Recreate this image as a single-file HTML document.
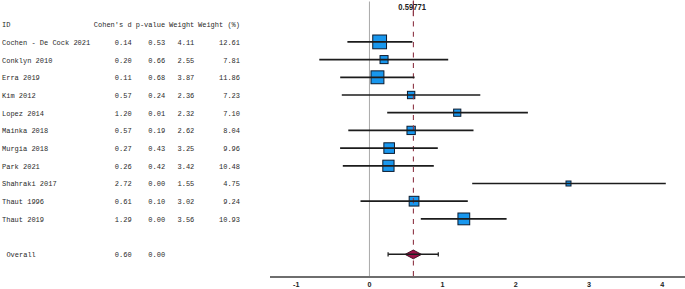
<!DOCTYPE html>
<html><head><meta charset="utf-8"><style>
html,body{margin:0;padding:0;background:#fff;width:685px;height:289px;overflow:hidden}
svg{display:block}
.m{font-family:"Liberation Mono",monospace;font-size:7.0px;fill:#2a2a2a}
.s{font-family:"Liberation Sans",sans-serif;font-size:7.2px;font-weight:bold;fill:#222}
</style></head><body>
<svg width="685" height="289" viewBox="0 0 685 289">
<g class="m">
<text x="2.0" y="27.30">ID</text>
<text x="131.6" y="27.30" text-anchor="end">Cohen's d</text>
<text x="165.1" y="27.30" text-anchor="end">p-value</text>
<text x="194.3" y="27.30" text-anchor="end">Weight</text>
<text x="240.0" y="27.30" text-anchor="end">Weight (%)</text>
<text x="2.0" y="44.96">Cochen - De Cock 2021</text>
<text x="131.6" y="44.96" text-anchor="end">0.14</text>
<text x="165.1" y="44.96" text-anchor="end">0.53</text>
<text x="194.3" y="44.96" text-anchor="end">4.11</text>
<text x="240.0" y="44.96" text-anchor="end">12.61</text>
<text x="2.0" y="62.62">Conklyn 2010</text>
<text x="131.6" y="62.62" text-anchor="end">0.20</text>
<text x="165.1" y="62.62" text-anchor="end">0.66</text>
<text x="194.3" y="62.62" text-anchor="end">2.55</text>
<text x="240.0" y="62.62" text-anchor="end">7.81</text>
<text x="2.0" y="80.28">Erra 2019</text>
<text x="131.6" y="80.28" text-anchor="end">0.11</text>
<text x="165.1" y="80.28" text-anchor="end">0.68</text>
<text x="194.3" y="80.28" text-anchor="end">3.87</text>
<text x="240.0" y="80.28" text-anchor="end">11.86</text>
<text x="2.0" y="97.94">Kim 2012</text>
<text x="131.6" y="97.94" text-anchor="end">0.57</text>
<text x="165.1" y="97.94" text-anchor="end">0.24</text>
<text x="194.3" y="97.94" text-anchor="end">2.36</text>
<text x="240.0" y="97.94" text-anchor="end">7.23</text>
<text x="2.0" y="115.60">Lopez 2014</text>
<text x="131.6" y="115.60" text-anchor="end">1.20</text>
<text x="165.1" y="115.60" text-anchor="end">0.01</text>
<text x="194.3" y="115.60" text-anchor="end">2.32</text>
<text x="240.0" y="115.60" text-anchor="end">7.10</text>
<text x="2.0" y="133.26">Mainka 2018</text>
<text x="131.6" y="133.26" text-anchor="end">0.57</text>
<text x="165.1" y="133.26" text-anchor="end">0.19</text>
<text x="194.3" y="133.26" text-anchor="end">2.62</text>
<text x="240.0" y="133.26" text-anchor="end">8.04</text>
<text x="2.0" y="150.92">Murgia 2018</text>
<text x="131.6" y="150.92" text-anchor="end">0.27</text>
<text x="165.1" y="150.92" text-anchor="end">0.43</text>
<text x="194.3" y="150.92" text-anchor="end">3.25</text>
<text x="240.0" y="150.92" text-anchor="end">9.96</text>
<text x="2.0" y="168.58">Park 2021</text>
<text x="131.6" y="168.58" text-anchor="end">0.26</text>
<text x="165.1" y="168.58" text-anchor="end">0.42</text>
<text x="194.3" y="168.58" text-anchor="end">3.42</text>
<text x="240.0" y="168.58" text-anchor="end">10.48</text>
<text x="2.0" y="186.24">Shahraki 2017</text>
<text x="131.6" y="186.24" text-anchor="end">2.72</text>
<text x="165.1" y="186.24" text-anchor="end">0.00</text>
<text x="194.3" y="186.24" text-anchor="end">1.55</text>
<text x="240.0" y="186.24" text-anchor="end">4.75</text>
<text x="2.0" y="203.90">Thaut 1996</text>
<text x="131.6" y="203.90" text-anchor="end">0.61</text>
<text x="165.1" y="203.90" text-anchor="end">0.10</text>
<text x="194.3" y="203.90" text-anchor="end">3.02</text>
<text x="240.0" y="203.90" text-anchor="end">9.24</text>
<text x="2.0" y="221.56">Thaut 2019</text>
<text x="131.6" y="221.56" text-anchor="end">1.29</text>
<text x="165.1" y="221.56" text-anchor="end">0.00</text>
<text x="194.3" y="221.56" text-anchor="end">3.56</text>
<text x="240.0" y="221.56" text-anchor="end">10.93</text>
<text x="6.4" y="257.30">Overall</text>
<text x="131.6" y="257.30" text-anchor="end">0.60</text>
<text x="165.1" y="257.30" text-anchor="end">0.00</text>
</g>
<line x1="369.45" y1="1.5" x2="369.45" y2="277" stroke="#a8a8a8" stroke-width="1"/>
<rect x="372.75" y="35.00" width="13.79" height="13.79" fill="#1897ee" stroke="#0d1b2e" stroke-width="1"/>
<rect x="380.02" y="55.58" width="8.04" height="8.04" fill="#1897ee" stroke="#0d1b2e" stroke-width="1"/>
<rect x="371.01" y="70.85" width="12.89" height="12.89" fill="#1897ee" stroke="#0d1b2e" stroke-width="1"/>
<rect x="407.45" y="91.33" width="7.35" height="7.35" fill="#1897ee" stroke="#0d1b2e" stroke-width="1"/>
<rect x="453.64" y="109.10" width="7.19" height="7.19" fill="#1897ee" stroke="#0d1b2e" stroke-width="1"/>
<rect x="406.97" y="126.24" width="8.32" height="8.32" fill="#1897ee" stroke="#0d1b2e" stroke-width="1"/>
<rect x="383.86" y="142.79" width="10.62" height="10.62" fill="#1897ee" stroke="#0d1b2e" stroke-width="1"/>
<rect x="382.81" y="160.18" width="11.24" height="11.24" fill="#1897ee" stroke="#0d1b2e" stroke-width="1"/>
<rect x="566.00" y="181.00" width="5.00" height="5.00" fill="#1897ee" stroke="#0d1b2e" stroke-width="1"/>
<rect x="409.17" y="196.32" width="9.75" height="9.75" fill="#1897ee" stroke="#0d1b2e" stroke-width="1"/>
<rect x="457.94" y="213.01" width="11.78" height="11.78" fill="#1897ee" stroke="#0d1b2e" stroke-width="1"/>
<line x1="413.4" y1="0.5" x2="413.4" y2="276" stroke="#8e3646" stroke-width="1.1" stroke-dasharray="5.1 5.3"/>
<line x1="413.4" y1="1.2" x2="413.4" y2="16.2" stroke="#8e3646" stroke-width="1.1"/>
<line x1="347.4" y1="41.90" x2="412.4" y2="41.90" stroke="#1c1c1c" stroke-width="1.7"/>
<line x1="319.3" y1="59.60" x2="448.2" y2="59.60" stroke="#1c1c1c" stroke-width="1.7"/>
<line x1="340.2" y1="77.30" x2="414.6" y2="77.30" stroke="#1c1c1c" stroke-width="1.7"/>
<line x1="341.8" y1="95.00" x2="480.3" y2="95.00" stroke="#1c1c1c" stroke-width="1.7"/>
<line x1="387.2" y1="112.70" x2="527.9" y2="112.70" stroke="#1c1c1c" stroke-width="1.7"/>
<line x1="348.3" y1="130.40" x2="473.5" y2="130.40" stroke="#1c1c1c" stroke-width="1.7"/>
<line x1="340.1" y1="148.10" x2="437.8" y2="148.10" stroke="#1c1c1c" stroke-width="1.7"/>
<line x1="342.8" y1="165.80" x2="433.8" y2="165.80" stroke="#1c1c1c" stroke-width="1.7"/>
<line x1="472.2" y1="183.50" x2="665.8" y2="183.50" stroke="#1c1c1c" stroke-width="1.7"/>
<line x1="360.5" y1="201.20" x2="467.8" y2="201.20" stroke="#1c1c1c" stroke-width="1.7"/>
<line x1="420.8" y1="218.90" x2="506.6" y2="218.90" stroke="#1c1c1c" stroke-width="1.7"/>
<polygon points="405.10,254.40 413.30,250.00 421.50,254.40 413.30,258.80" fill="#9a1048" stroke="#3a0a1a" stroke-width="0.9"/>
<line x1="388.1" y1="254.30" x2="438.3" y2="254.30" stroke="#1e1e1e" stroke-width="1.5"/>
<line x1="388.1" y1="252.20" x2="388.1" y2="256.40" stroke="#2a2a2a" stroke-width="1.3"/>
<line x1="438.3" y1="252.20" x2="438.3" y2="256.40" stroke="#2a2a2a" stroke-width="1.3"/>
<line x1="270" y1="277" x2="685" y2="277" stroke="#6e6e6e" stroke-width="1.9"/>
<g class="s">
<text x="398.3" y="10.35" textLength="27.6" lengthAdjust="spacingAndGlyphs" style="font-size:8.4px">0.59771</text>
<text x="296.20" y="287.3" text-anchor="middle">-1</text>
<text x="369.40" y="287.3" text-anchor="middle">0</text>
<text x="442.60" y="287.3" text-anchor="middle">1</text>
<text x="515.80" y="287.3" text-anchor="middle">2</text>
<text x="589.00" y="287.3" text-anchor="middle">3</text>
<text x="662.20" y="287.3" text-anchor="middle">4</text>
</g>
</svg>
</body></html>
